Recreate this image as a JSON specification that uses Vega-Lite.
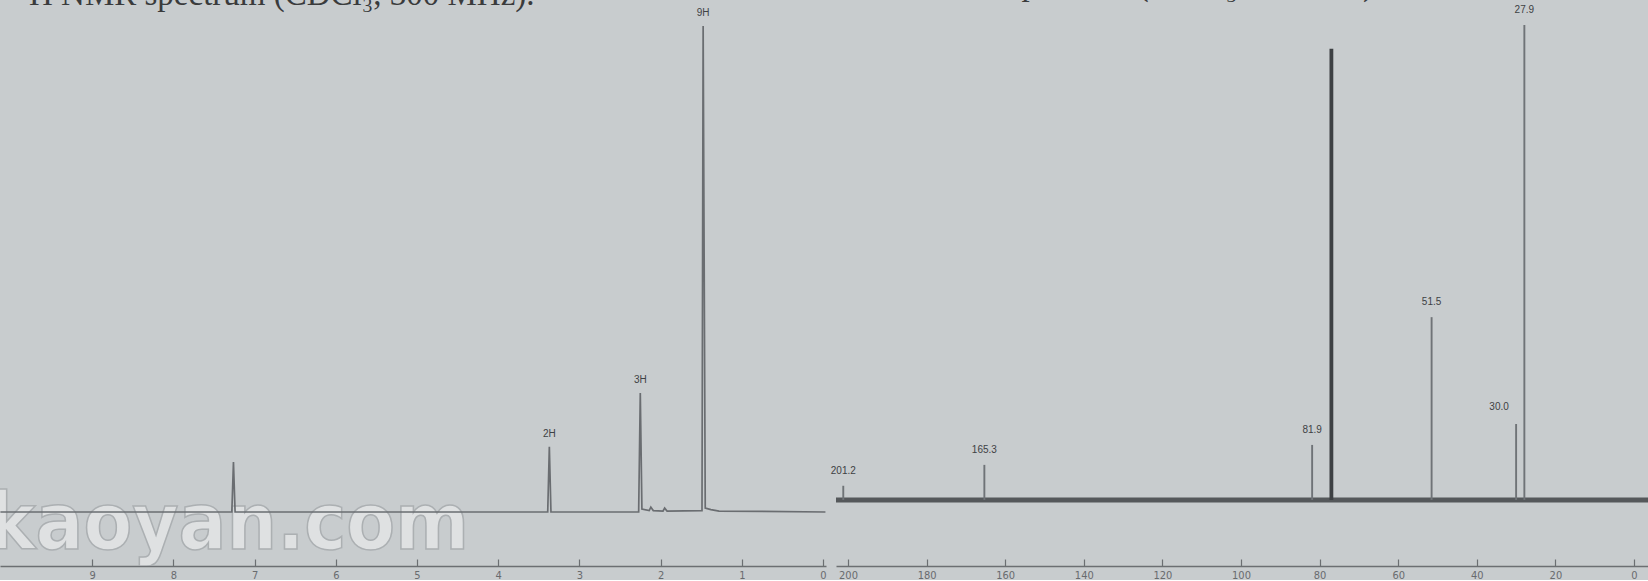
{
  "$schema": "https://vega.github.io/schema/vega-lite/v6.json",
  "background": "#c8ccce",
  "padding": 0,
  "spacing": 10,
  "bounds": "flush",
  "config": {
    "view": {"stroke": null},
    "axis": {
      "grid": false,
      "title": null,
      "domainColor": "#6c6f72",
      "domainWidth": 1.5,
      "tickColor": "#6c6f72",
      "tickWidth": 1.2,
      "tickSize": -7,
      "labelColor": "#686b6e",
      "labelFontSize": 11,
      "labelFont": "Liberation Sans Narrow, DejaVu Sans Condensed, sans-serif",
      "labelPadding": 10,
      "labelFlush": false,
      "labelOverlap": false
    }
  },
  "datasets": {
    "h1": [
      {"ppm": 10.13, "v": 0, "label": ""},
      {"ppm": 7.28, "v": 0, "label": ""},
      {"ppm": 7.26, "v": 10.3, "label": ""},
      {"ppm": 7.24, "v": 0, "label": ""},
      {"ppm": 3.39, "v": 0, "label": ""},
      {"ppm": 3.37, "v": 13.4, "label": "2H"},
      {"ppm": 3.35, "v": 0, "label": ""},
      {"ppm": 2.27, "v": 0, "label": ""},
      {"ppm": 2.25, "v": 24.5, "label": "3H"},
      {"ppm": 2.23, "v": 0.6, "label": ""},
      {"ppm": 2.14, "v": 0.3, "label": ""},
      {"ppm": 2.12, "v": 1.0, "label": ""},
      {"ppm": 2.09, "v": 0.3, "label": ""},
      {"ppm": 1.97, "v": 0.2, "label": ""},
      {"ppm": 1.95, "v": 0.8, "label": ""},
      {"ppm": 1.92, "v": 0.2, "label": ""},
      {"ppm": 1.49, "v": 0.3, "label": ""},
      {"ppm": 1.476, "v": 100, "label": "9H"},
      {"ppm": 1.45, "v": 0.8, "label": ""},
      {"ppm": 1.38, "v": 0.5, "label": ""},
      {"ppm": 1.28, "v": 0.2, "label": ""},
      {"ppm": -0.03, "v": 0, "label": ""}
    ],
    "c13": [
      {"ppm": 201.2, "h": 3.0, "label": "201.2", "kind": "compound"},
      {"ppm": 165.3, "h": 7.4, "label": "165.3", "kind": "compound"},
      {"ppm": 81.9, "h": 11.6, "label": "81.9", "kind": "compound"},
      {"ppm": 77.0, "h": 95.0, "label": "", "kind": "solvent"},
      {"ppm": 51.5, "h": 38.5, "label": "51.5", "kind": "compound"},
      {"ppm": 30.0, "h": 16.0, "label": "30.0", "kind": "compound"},
      {"ppm": 27.9, "h": 100, "label": "27.9", "kind": "compound"}
    ]
  },
  "hconcat": [
    {
      "width": 826,
      "height": 566,
      "layer": [
        {
          "data": {"values": [{"mark": "kaoyan.com"}]},
          "mark": {"type": "text", "align": "left", "baseline": "alphabetic", "font": "Liberation Sans Narrow, DejaVu Sans Condensed, sans-serif", "fontSize": 79, "fontWeight": "bold", "fill": "#e2e4e5", "stroke": "#a9adb0", "strokeWidth": 1.5, "opacity": 0.9, "clip": true},
          "encoding": {
            "x": {"datum": 10.28, "type": "quantitative", "scale": {"domain": [-0.037, 10.135], "reverse": true, "nice": false, "zero": false}, "axis": {"values": [0, 1, 2, 3, 4, 5, 6, 7, 8, 9], "format": "d"}},
            "y": {"datum": -7.6, "type": "quantitative", "scale": {"domain": [-11.11, 105.35], "nice": false, "zero": false}, "axis": null},
            "text": {"field": "mark"}
          }
        },
        {
          "data": {"values": [{"t": "¹H NMR spectrum (CDCl₃, 300 MHz)."}]},
          "mark": {"type": "text", "align": "left", "baseline": "alphabetic", "font": "Liberation Serif", "fontSize": 33, "color": "#3a3b3c", "clip": true},
          "encoding": {
            "x": {"datum": 9.9, "type": "quantitative", "scale": {"domain": [-0.037, 10.135], "reverse": true, "nice": false, "zero": false}, "axis": {"values": [0, 1, 2, 3, 4, 5, 6, 7, 8, 9], "format": "d"}},
            "y": {"datum": 104.4, "type": "quantitative", "scale": {"domain": [-11.11, 105.35], "nice": false, "zero": false}, "axis": null},
            "text": {"field": "t"}
          }
        },
        {
          "data": {"name": "h1"},
          "mark": {"type": "line", "color": "#6a6d71", "strokeWidth": 1.7, "clip": true},
          "encoding": {
            "x": {"field": "ppm", "type": "quantitative", "scale": {"domain": [-0.037, 10.135], "reverse": true, "nice": false, "zero": false}, "axis": {"values": [0, 1, 2, 3, 4, 5, 6, 7, 8, 9], "format": "d"}},
            "y": {"field": "v", "type": "quantitative", "scale": {"domain": [-11.11, 105.35], "nice": false, "zero": false}, "axis": null}
          }
        },
        {
          "data": {"name": "h1"},
          "transform": [{"filter": "datum.label != ''"}],
          "mark": {"type": "text", "baseline": "middle", "dy": -13, "fontSize": 10, "font": "Liberation Sans", "color": "#3e4144"},
          "encoding": {
            "x": {"field": "ppm", "type": "quantitative", "scale": {"domain": [-0.037, 10.135], "reverse": true, "nice": false, "zero": false}, "axis": {"values": [0, 1, 2, 3, 4, 5, 6, 7, 8, 9], "format": "d"}},
            "y": {"field": "v", "type": "quantitative", "scale": {"domain": [-11.11, 105.35], "nice": false, "zero": false}, "axis": null},
            "text": {"field": "label"}
          }
        }
      ]
    },
    {
      "width": 812,
      "height": 566,
      "layer": [
        {
          "data": {"values": [{"t": "¹³C NMR spectrum (CDCl₃, 75 MHz)."}]},
          "mark": {"type": "text", "align": "left", "baseline": "alphabetic", "font": "Liberation Serif", "fontSize": 33, "color": "#3a3b3c", "clip": true},
          "encoding": {
            "x": {"datum": 193.1, "type": "quantitative", "scale": {"domain": [-3.56, 203.05], "reverse": true, "nice": false, "zero": false}, "axis": {"values": [0, 20, 40, 60, 80, 100, 120, 140, 160, 180, 200], "format": "d"}},
            "y": {"datum": 106.35, "type": "quantitative", "scale": {"domain": [-13.89, 105.27], "nice": false, "zero": false}, "axis": null},
            "text": {"field": "t"}
          }
        },
        {
          "data": {"values": [{"from": 203.05, "to": -3.56}]},
          "mark": {"type": "rule", "color": "#55585b", "strokeWidth": 5, "clip": true},
          "encoding": {
            "x": {"field": "from", "type": "quantitative", "scale": {"domain": [-3.56, 203.05], "reverse": true, "nice": false, "zero": false}, "axis": {"values": [0, 20, 40, 60, 80, 100, 120, 140, 160, 180, 200], "format": "d"}},
            "x2": {"field": "to"},
            "y": {"datum": 0, "type": "quantitative", "scale": {"domain": [-13.89, 105.27], "nice": false, "zero": false}, "axis": null}
          }
        },
        {
          "data": {"name": "c13"},
          "mark": {"type": "rule", "clip": true},
          "encoding": {
            "x": {"field": "ppm", "type": "quantitative", "scale": {"domain": [-3.56, 203.05], "reverse": true, "nice": false, "zero": false}, "axis": {"values": [0, 20, 40, 60, 80, 100, 120, 140, 160, 180, 200], "format": "d"}},
            "y": {"field": "h", "type": "quantitative", "scale": {"domain": [-13.89, 105.27], "nice": false, "zero": false}, "axis": null},
            "y2": {"datum": 0},
            "color": {"field": "kind", "type": "nominal", "scale": {"domain": ["compound", "solvent"], "range": ["#6f7377", "#3d4043"]}, "legend": null},
            "strokeWidth": {"field": "kind", "type": "nominal", "scale": {"domain": ["compound", "solvent"], "range": [1.9, 3.8]}, "legend": null}
          }
        },
        {
          "data": {"name": "c13"},
          "transform": [{"filter": "datum.label != '' && datum.label != '30.0'"}],
          "mark": {"type": "text", "baseline": "middle", "dy": -15, "fontSize": 10, "font": "Liberation Sans", "color": "#3e4144"},
          "encoding": {
            "x": {"field": "ppm", "type": "quantitative", "scale": {"domain": [-3.56, 203.05], "reverse": true, "nice": false, "zero": false}, "axis": {"values": [0, 20, 40, 60, 80, 100, 120, 140, 160, 180, 200], "format": "d"}},
            "y": {"field": "h", "type": "quantitative", "scale": {"domain": [-13.89, 105.27], "nice": false, "zero": false}, "axis": null},
            "text": {"field": "label"}
          }
        },
        {
          "data": {"name": "c13"},
          "transform": [{"filter": "datum.label == '30.0'"}],
          "mark": {"type": "text", "baseline": "middle", "dy": -17, "dx": -17, "fontSize": 10, "font": "Liberation Sans", "color": "#3e4144"},
          "encoding": {
            "x": {"field": "ppm", "type": "quantitative", "scale": {"domain": [-3.56, 203.05], "reverse": true, "nice": false, "zero": false}, "axis": {"values": [0, 20, 40, 60, 80, 100, 120, 140, 160, 180, 200], "format": "d"}},
            "y": {"field": "h", "type": "quantitative", "scale": {"domain": [-13.89, 105.27], "nice": false, "zero": false}, "axis": null},
            "text": {"field": "label"}
          }
        }
      ]
    }
  ]
}
